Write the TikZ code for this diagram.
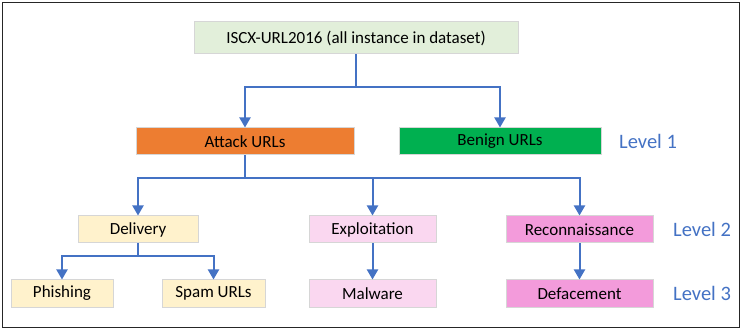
\documentclass[tikz,border=0pt]{standalone}
\usepackage{fontspec}
\setmainfont{Carlito}
\usetikzlibrary{arrows.meta}
\definecolor{arr}{HTML}{4472C4}
\definecolor{topc}{HTML}{E2EFDA}
\definecolor{attc}{HTML}{ED7D31}
\definecolor{benc}{HTML}{00B050}
\definecolor{delc}{HTML}{FFF2CC}
\definecolor{expc}{HTML}{FAD7F0}
\definecolor{recc}{HTML}{F39BDB}
\definecolor{bordc}{HTML}{D6D6D6}
\begin{document}
\begin{tikzpicture}[x=1pt,y=-1pt,
  box/.style={draw=bordc,line width=1pt,minimum height=27pt,inner sep=0pt,font=\fontsize{17}{19}\selectfont,text=black},
  conn/.style={arr,line width=2pt},
  arrw/.style={conn,-{Triangle[length=10pt,width=11pt]}},
  lvl/.style={text=arr,font=\fontsize{20.5}{23}\selectfont,inner sep=0pt}]
\useasboundingbox (0,0) rectangle (742,331);
\draw[line width=1.5pt,black!85] (2.5,2.5) rectangle (739.5,327.5);
\node[box,fill=topc,minimum width=324pt,minimum height=32pt] (top) at (356,38) {ISCX-URL2016 (all instance in dataset)};
\node[box,fill=attc,minimum width=218pt] (att) at (245,141.5) {Attack URLs};
\node[box,fill=benc,minimum width=202pt] (ben) at (500,141.5) {Benign URLs};
\node[box,fill=delc,minimum width=120pt] (del) at (138,229.5) {Delivery};
\node[box,fill=expc,minimum width=127pt] (exp) at (372.5,229.5) {Exploitation};
\node[box,fill=recc,minimum width=147pt] (rec) at (579.5,229.5) {Reconnaissance};
\node[box,fill=delc,minimum width=102pt] (phi) at (62,293.5) {Phishing};
\node[box,fill=delc,minimum width=103pt] (spa) at (213.5,293.5) {Spam URLs};
\node[box,fill=expc,minimum width=127pt] (mal) at (372.5,293.5) {Malware};
\node[box,fill=recc,minimum width=147pt] (def) at (579.5,293.5) {Defacement};
\node[lvl,anchor=west] (l1) at (619,141.5) {Level 1};
\node[lvl,anchor=west] (l2) at (673,229.5) {Level 2};
\node[lvl,anchor=west] (l3) at (673,293.5) {Level 3};
\coordinate (j1) at (356,87);
\coordinate (j2) at (245,178);
\coordinate (j3) at (138,256);
\draw[conn] (top.south) -- (j1);
\draw[arrw] (j1) -| (att.north);
\draw[arrw] (j1) -| (ben.north);
\draw[conn] (att.south) -- (j2);
\draw[arrw] (j2) -| (del.north);
\draw[arrw] (j2) -| (exp.north);
\draw[arrw] (j2) -| (rec.north);
\draw[conn] (del.south) -- (j3);
\draw[arrw] (j3) -| (phi.north);
\draw[arrw] (j3) -| (spa.north);
\draw[arrw] (exp.south) -- (mal.north);
\draw[arrw] (rec.south) -- (def.north);
\end{tikzpicture}
\end{document}
